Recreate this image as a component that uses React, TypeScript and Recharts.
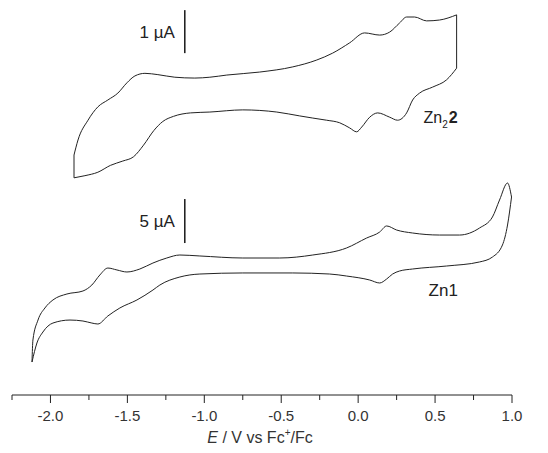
import { LineChart, Line, XAxis, YAxis, ReferenceLine, ReferenceDot } from 'recharts';

// cyclic voltammograms split into branches, [E (V vs Fc+/Fc), I (µA, arbitrary zero)], ascending E
const zn22Upper: [number, number][] = [
  [-1.847, -1.28], [-1.821, -0.93], [-1.756, -0.47], [-1.692, -0.16], [-1.627, 0.0],
  [-1.562, 0.16], [-1.503, 0.4], [-1.451, 0.56], [-1.386, 0.62], [-1.302, 0.59],
  [-1.192, 0.53], [-1.062, 0.51], [-0.964, 0.53], [-0.854, 0.58], [-0.64, 0.65],
  [-0.425, 0.77], [-0.269, 0.93], [-0.166, 1.09], [-0.055, 1.33], [0.042, 1.56],
  [0.14, 1.51], [0.205, 1.58], [0.269, 1.79], [0.315, 1.93], [0.367, 1.93],
  [0.445, 1.84], [0.529, 1.86], [0.64, 1.98],
];

const zn22Lower: [number, number][] = [
  [-1.847, -1.81], [-1.776, -1.76], [-1.692, -1.68], [-1.61, -1.52], [-1.53, -1.42],
  [-1.46, -1.32], [-1.395, -1.05], [-1.328, -0.71], [-1.27, -0.5], [-1.2, -0.38],
  [-1.09, -0.3], [-0.964, -0.28], [-0.75, -0.23], [-0.529, -0.28], [-0.38, -0.37],
  [-0.295, -0.42], [-0.205, -0.47], [-0.12, -0.53], [-0.055, -0.65], [-0.01, -0.74],
  [0.023, -0.63], [0.075, -0.4], [0.127, -0.3], [0.205, -0.4], [0.256, -0.47],
  [0.315, -0.3], [0.354, 0.0], [0.399, 0.16], [0.484, 0.3], [0.575, 0.47], [0.64, 0.74],
];

const zn1Upper: [number, number][] = [
  [-2.12, -9.32], [-2.114, -6.82], [-2.081, -4.55], [-2.036, -3.18], [-1.984, -2.27],
  [-1.893, -1.59], [-1.789, -1.25], [-1.731, -0.57], [-1.679, 0.57], [-1.627, 1.36],
  [-1.568, 1.14], [-1.503, 0.91], [-1.419, 1.25], [-1.334, 1.93], [-1.244, 2.5],
  [-1.159, 2.84], [-1.029, 2.73], [-0.75, 2.5], [-0.51, 2.5], [-0.295, 2.84],
  [-0.075, 3.64], [0.055, 4.77], [0.14, 5.45], [0.185, 6.14], [0.25, 5.68],
  [0.354, 5.34], [0.529, 5.11], [0.659, 5.11], [0.789, 5.91], [0.873, 7.16],
  [0.919, 9.09], [0.971, 11.02], [0.997, 9.43],
];

const zn1Lower: [number, number][] = [
  [-2.12, -9.32], [-2.088, -7.16], [-2.049, -5.91], [-1.984, -4.89], [-1.873, -4.55],
  [-1.789, -4.66], [-1.731, -4.89], [-1.692, -5.0], [-1.627, -4.09], [-1.549, -3.18],
  [-1.438, -2.27], [-1.334, -1.14], [-1.289, -0.57], [-1.159, 0.34], [-1.029, 0.68],
  [-0.75, 0.8], [-0.425, 0.8], [-0.185, 0.68], [-0.075, 0.45], [0.075, 0.0],
  [0.14, -0.34], [0.185, 0.11], [0.224, 0.68], [0.269, 1.02], [0.354, 1.25],
  [0.575, 1.59], [0.789, 2.05], [0.873, 2.61], [0.938, 3.98], [0.971, 6.25], [0.997, 9.43],
];

const xTicks = [-2.25, -2.0, -1.75, -1.5, -1.25, -1.0, -0.75, -0.5, -0.25, 0, 0.25, 0.5, 0.75, 1.0];

// scale bars: [E, I from, I to]
const zn22Bar = [-1.127, 1.09, 2.09];
const zn1Bar = [-1.127, 4.2, 9.2];

// each trace is stacked on a shared hidden axis: offset + I * gain
const zn22Offset = 295;
const zn22Gain = 43;
const zn1Offset = 115;
const zn1Gain = 8.8;

const font = '"Liberation Sans", Arial, sans-serif';
const ink = '#222';

const toRows = (pts: [number, number][], off: number, gain: number) =>
  pts.map(([x, i]) => ({ x, y: off + i * gain }));

// potential-switching edges of the Zn2 2 scan (vertical in the trace)
const zn22Left = [zn22Lower[0], zn22Upper[0]];
const zn22Right = [zn22Lower[zn22Lower.length - 1], zn22Upper[zn22Upper.length - 1]];

const curves = [
  { key: 'a', data: toRows(zn22Upper, zn22Offset, zn22Gain), type: 'monotone' },
  { key: 'b', data: toRows(zn22Lower, zn22Offset, zn22Gain), type: 'monotone' },
  { key: 'c', data: toRows(zn22Left as [number, number][], zn22Offset, zn22Gain), type: 'linear' },
  { key: 'd', data: toRows(zn22Right as [number, number][], zn22Offset, zn22Gain), type: 'linear' },
  { key: 'e', data: toRows(zn1Upper, zn1Offset, zn1Gain), type: 'monotone' },
  { key: 'f', data: toRows(zn1Lower, zn1Offset, zn1Gain), type: 'monotone' },
];

const Tick = ({ x, y, payload }: any) => {
  const v = payload.value;
  const major = Math.abs(v * 2 - Math.round(v * 2)) < 1e-6;
  return (
    <g>
      <line x1={x} x2={x} y1={y} y2={y + (major ? 8 : 5)} stroke={ink} strokeWidth={1} />
      {major && (
        <text x={x} y={y + 26} textAnchor="middle" fontSize={15} fontFamily={font} fill="#333">
          {v.toFixed(1)}
        </text>
      )}
    </g>
  );
};

const AxisTitle = ({ viewBox }: any) => {
  const cx = viewBox.x + viewBox.width / 2 - 2;
  return (
    <text x={cx} y={viewBox.y + 48} textAnchor="middle" fontSize={16} fontFamily={font} fill="#333">
      <tspan fontStyle="italic">E</tspan>
      <tspan> / V vs Fc</tspan>
      <tspan fontSize={10} dy={-7}>+</tspan>
      <tspan dy={7}>/Fc</tspan>
    </text>
  );
};

const barLabel = (text: string) => (p: any) => {
  const vb = p.viewBox;
  return (
    <text
      x={vb.x - 10}
      y={vb.y + vb.height / 2 + 6}
      textAnchor="end"
      fontSize={17}
      fontFamily={font}
      fill={ink}
    >
      {text}
    </text>
  );
};

export default function App() {
  return (
    <div style={{ width: 548, height: 453, background: '#fff' }}>
      <style>{'body{margin:0}'}</style>
      <LineChart width={548} height={453} margin={{ top: 0, right: 36, bottom: 0, left: 12 }}>
        <XAxis
          type="number"
          dataKey="x"
          domain={[-2.25, 1.0]}
          ticks={xTicks}
          interval={0}
          allowDataOverflow
          height={58}
          tickSize={0}
          tickMargin={0}
          tickLine={false}
          tick={<Tick />}
          axisLine={{ stroke: ink, strokeWidth: 1 }}
          label={<AxisTitle />}
        />
        <YAxis type="number" dataKey="y" hide domain={[0, 395]} allowDataOverflow />
        {curves.map((c) => (
          <Line
            key={c.key}
            data={c.data}
            dataKey="y"
            type={c.type as any}
            stroke={ink}
            strokeWidth={1}
            dot={false}
            activeDot={false}
            isAnimationActive={false}
          />
        ))}
        <ReferenceLine
          segment={[
            { x: zn22Bar[0], y: zn22Offset + zn22Bar[1] * zn22Gain },
            { x: zn22Bar[0], y: zn22Offset + zn22Bar[2] * zn22Gain },
          ]}
          stroke={ink}
          strokeWidth={1.6}
          label={barLabel('1 µA')}
        />
        <ReferenceLine
          segment={[
            { x: zn1Bar[0], y: zn1Offset + zn1Bar[1] * zn1Gain },
            { x: zn1Bar[0], y: zn1Offset + zn1Bar[2] * zn1Gain },
          ]}
          stroke={ink}
          strokeWidth={1.6}
          label={barLabel('5 µA')}
        />
        <ReferenceDot
          x={0.425}
          y={272}
          r={0}
          fill="none"
          stroke="none"
          label={(p: any) => (
            <text x={p.viewBox.x} y={p.viewBox.y} fontSize={16} fontFamily={font} fill={ink}>
              <tspan>Zn</tspan>
              <tspan fontSize={10} dy={5}>2</tspan>
              <tspan fontWeight="bold" dy={-5} dx={1}>2</tspan>
            </text>
          )}
        />
        <ReferenceDot
          x={0.458}
          y={99}
          r={0}
          fill="none"
          stroke="none"
          label={(p: any) => (
            <text x={p.viewBox.x} y={p.viewBox.y} fontSize={17} fontFamily={font} fill={ink}>
              Zn1
            </text>
          )}
        />
      </LineChart>
    </div>
  );
}
